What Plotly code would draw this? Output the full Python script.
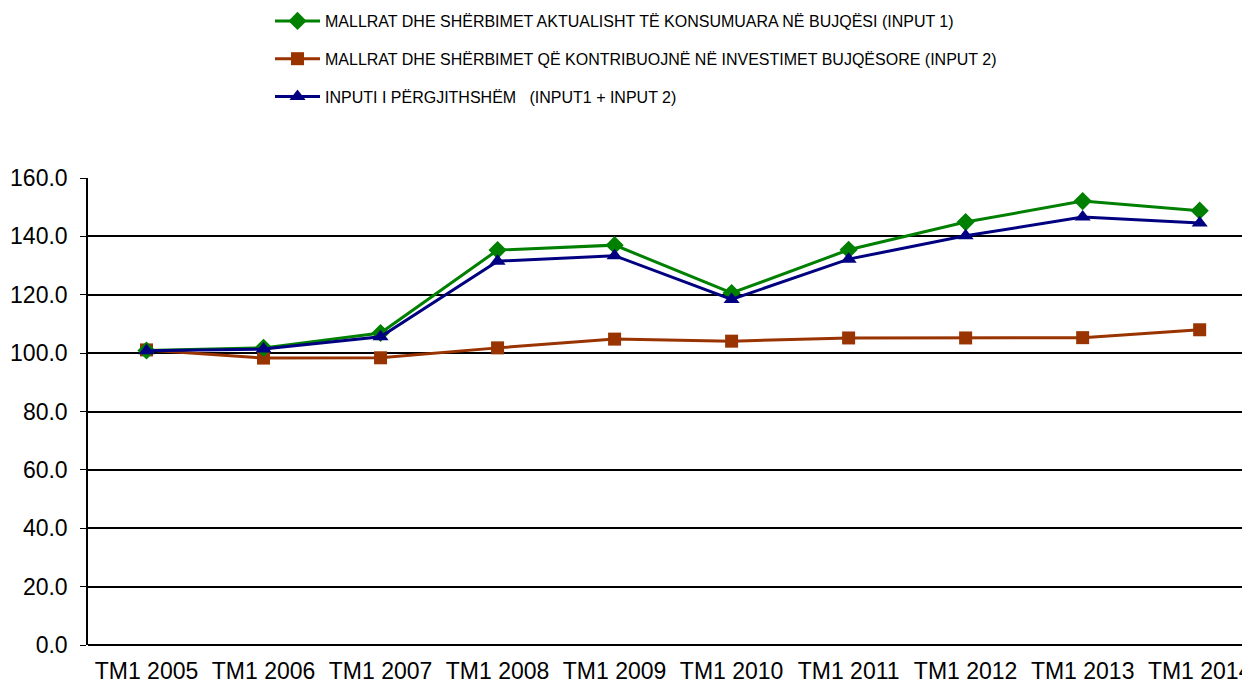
import plotly.graph_objects as go

categories = ["TM1 2005", "TM1 2006", "TM1 2007", "TM1 2008", "TM1 2009",
              "TM1 2010", "TM1 2011", "TM1 2012", "TM1 2013", "TM1 2014"]
input1 = [100.9, 101.8, 106.9, 135.3, 137.0, 120.6, 135.4, 144.9, 152.1, 148.8]
input2 = [101.1, 98.3, 98.4, 101.8, 104.8, 104.1, 105.2, 105.2, 105.3, 108.0]
total = [100.8, 101.4, 105.6, 131.5, 133.4, 118.4, 132.2, 140.2, 146.6, 144.6]

names = ["MALLRAT DHE SHËRBIMET AKTUALISHT TË KONSUMUARA NË BUJQËSI (INPUT 1)",
         "MALLRAT DHE SHËRBIMET QË KONTRIBUOJNË NË INVESTIMET BUJQËSORE (INPUT 2)",
         "INPUTI I PËRGJITHSHËM &nbsp;&nbsp;(INPUT1 + INPUT 2)"]

fig = go.Figure()
fig.add_trace(go.Scatter(x=categories, y=input2, name=names[1], mode="lines+markers",
                         line=dict(color="#993300", width=3),
                         marker=dict(symbol="square", size=13, color="#993300"),
                         legendgroup="b", legendrank=2))
fig.add_trace(go.Scatter(x=categories, y=input1, name=names[0], mode="lines+markers",
                         line=dict(color="#008000", width=3),
                         marker=dict(symbol="diamond", size=14, color="#008000"),
                         legendgroup="a", legendrank=1))
fig.add_trace(go.Scatter(x=categories, y=total, name=names[2], mode="lines+markers",
                         line=dict(color="#000080", width=3),
                         marker=dict(symbol="triangle-up", size=14, color="#000080"),
                         legendgroup="c", legendrank=3))

W, H = 1242, 676
L, T, B = 80, 170, 39
PH = H - T - B
fig.update_layout(
    width=W, height=H,
    margin=dict(l=L, r=0, t=T, b=B, autoexpand=False),
    paper_bgcolor="white", plot_bgcolor="white",
    font=dict(family="Liberation Sans, Arial, sans-serif", color="black"),
    showlegend=True,
    legend=dict(x=(262 - L) / (W - L), xanchor="left", y=1 + (T + 4) / PH,
                yanchor="top", yref="paper", orientation="v", tracegroupgap=14,
                font=dict(size=16, color="black"), itemwidth=45,
                bgcolor="rgba(0,0,0,0)", traceorder="grouped"),
    xaxis=dict(range=[-0.5, 9.43], showgrid=False, showline=False, ticks="",
               tickfont=dict(size=23), zeroline=False, ticklabelstandoff=10,
               automargin=False),
    yaxis=dict(range=[0, 160], dtick=20, tickformat=".1f", showgrid=True,
               gridcolor="black", gridwidth=1.5, showline=True, linecolor="black",
               linewidth=1.5, ticks="outside", ticklen=6, tickcolor="black",
               tickfont=dict(size=23), zeroline=True, zerolinecolor="black",
               zerolinewidth=1.5, ticklabelstandoff=8, automargin=False),
)
fig.write_html("out.html")
